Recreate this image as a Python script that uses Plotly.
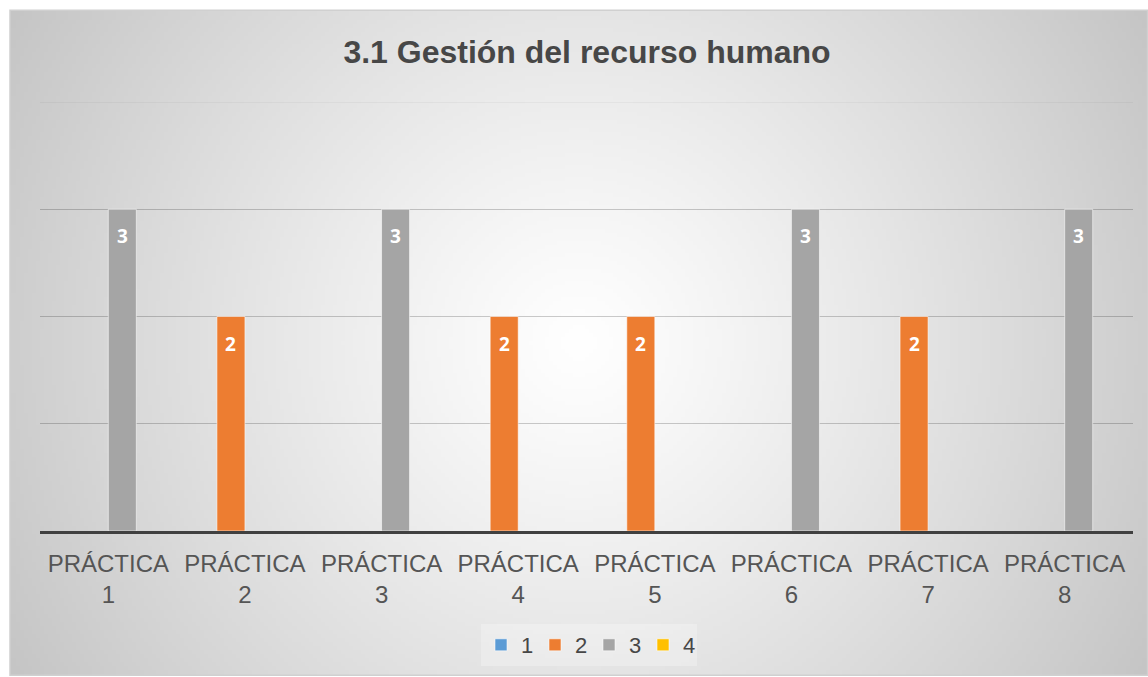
import base64, struct, zlib
import numpy as np
import plotly.graph_objects as go

# ---------------- data ----------------
categories = ["PRÁCTICA<br>1", "PRÁCTICA<br>2", "PRÁCTICA<br>3", "PRÁCTICA<br>4",
              "PRÁCTICA<br>5", "PRÁCTICA<br>6", "PRÁCTICA<br>7", "PRÁCTICA<br>8"]
series_names = ["1", "2", "3", "4"]
s1 = [None, None, None, None, None, None, None, None]
s2 = [None, 2, None, 2, 2, None, 2, None]
s3 = [3, None, 3, None, None, 3, None, 3]
s4 = [None, None, None, None, None, None, None, None]
series_values = [s1, s2, s3, s4]
series_colors = ["#5B9BD5", "#ED7D31", "#A5A5A5", "#FFC000"]
title_text = "3.1 Gestión del recurso humano"

# ---------------- background gradient (radial, Excel-like) ----------------
def make_png(arr):
    h, w, _ = arr.shape
    raw = b"".join(b"\x00" + arr[r].tobytes() for r in range(h))
    def chunk(tag, data):
        c = struct.pack(">I", len(data)) + tag + data
        return c + struct.pack(">I", zlib.crc32(tag + data) & 0xFFFFFFFF)
    png = b"\x89PNG\r\n\x1a\n"
    png += chunk(b"IHDR", struct.pack(">IIBBBBB", w, h, 8, 2, 0, 0, 0))
    png += chunk(b"IDAT", zlib.compress(raw, 9))
    png += chunk(b"IEND", b"")
    return "data:image/png;base64," + base64.b64encode(png).decode()

FW, FH = 1138, 667
gw, gh = 284, 166
yy, xx = np.mgrid[0:gh, 0:gw]
px = (xx + 0.5) / gw * FW
py = (yy + 0.5) / gh * FH
cx, cy = FW * 0.5, FH * 0.5
d = np.sqrt((px - cx) ** 2 + (py - cy) ** 2) / np.sqrt(cx ** 2 + cy ** 2)
val = 255 - 58 * d ** 1.15
img = np.clip(val, 0, 255).astype(np.uint8)
arr = np.stack([img, img, img], axis=-1)
bg_uri = make_png(arr)

# ---------------- figure ----------------
W, H = 1148, 677
L, R, T, B = 40, 15, 102, 145
pw, ph = W - L - R, H - T - B

def paper_x(p):
    return (p - L) / pw

def paper_y(p):
    return (H - B - p) / ph

fig = go.Figure()
for name, vals, col in zip(series_names, series_values, series_colors):
    fig.add_trace(go.Bar(
        x=categories, y=vals, name=name,
        marker=dict(color=col, line=dict(color="rgba(255,255,255,0.55)", width=1)),
        hoverinfo="skip",
    ))

# data labels (inside end)
bargap = 0.18
cat_w = pw / len(categories)
bar_w = cat_w * (1 - bargap) / len(series_names)
annotations = []
for i, vals in enumerate(series_values):
    off = (i - (len(series_names) - 1) / 2) * bar_w
    for c, v in zip(categories, vals):
        if v is None:
            continue
        annotations.append(dict(
            x=c, y=v, xref="x", yref="y", text=f"<b>{v}</b>", showarrow=False,
            xshift=off, yshift=-27, yanchor="middle",
            font=dict(family="Open Sans, Liberation Sans, Arial", size=19, color="white"),
        ))

fig.update_layout(
    width=W, height=H,
    margin=dict(l=L, r=R, t=T, b=B),
    paper_bgcolor="white",
    plot_bgcolor="rgba(0,0,0,0)",
    barmode="group", bargap=bargap, bargroupgap=0,
    title=dict(text=f"<b>{title_text}</b>", x=587 / W, xanchor="center",
               y=1 - 52 / H, yanchor="middle",
               font=dict(family="Liberation Sans, Arial", size=32, color="#474747")),
    showlegend=True,
    legend=dict(orientation="h", x=paper_x(589), xanchor="center", y=paper_y(645), yanchor="middle",
                font=dict(family="Liberation Sans, Arial", size=22, color="#474747"),
                bgcolor="rgba(255,255,255,0.25)", itemwidth=30, traceorder="normal",
                entrywidth=9),
    xaxis=dict(showgrid=False, ticks="", showline=True, linecolor="#404040", linewidth=3,
               tickfont=dict(family="Liberation Sans, Arial", size=24, color="#555555"),
               ticklabelstandoff=9, fixedrange=True),
    yaxis=dict(range=[0, 4], tickvals=[1, 2, 3], showticklabels=False, showgrid=True,
               gridcolor="rgba(0,0,0,0.2)", gridwidth=1, zeroline=False, showline=False,
               fixedrange=True),
    images=[dict(source=bg_uri, xref="paper", yref="paper",
                 x=paper_x(10), y=paper_y(10), sizex=FW / pw, sizey=FH / ph,
                 xanchor="left", yanchor="top", sizing="stretch", layer="below")],
    shapes=[
        dict(type="line", xref="paper", yref="y", x0=0, x1=1, y0=4, y1=4,
             line=dict(color="rgba(0,0,0,0.07)", width=1), layer="below"),
        dict(type="rect", xref="paper", yref="paper",
             x0=paper_x(10), x1=paper_x(1147.5), y0=paper_y(10), y1=paper_y(676.5),
             line=dict(color="#d0d0d0", width=1.5), layer="below"),
    ],
    annotations=annotations,
)

fig.write_html("out.html", config={"displayModeBar": False},
               post_script="document.body.style.margin='0';document.body.style.padding='0';")
